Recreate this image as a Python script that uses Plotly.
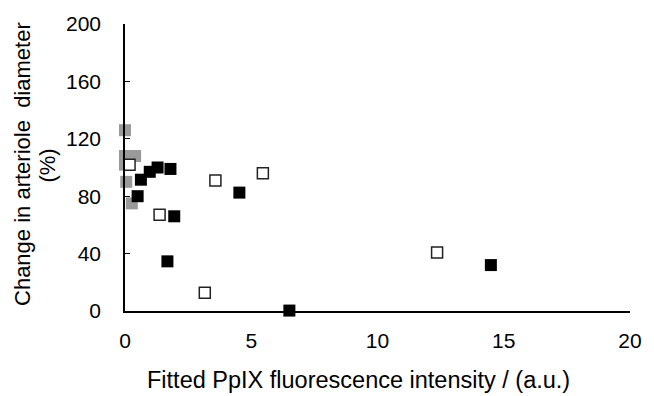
import plotly.graph_objects as go

# Series 1: gray filled squares
gray_x = [0.0, 0.0, 0.4, 0.0, 0.05, 0.27]
gray_y = [126, 108, 108, 102, 90, 75]

# Series 2: open squares
open_x = [0.18, 1.37, 3.16, 3.58, 5.46, 12.36]
open_y = [102, 67, 12.7, 91, 96, 40.8]

# Series 3: black filled squares
black_x = [0.5, 0.63, 0.98, 1.29, 1.8, 1.95, 1.68, 4.53, 6.51, 14.49]
black_y = [80, 91.5, 97, 100, 99, 66, 34.6, 82.5, 0.3, 32]

x_ticks = [0, 5, 10, 15, 20]
y_ticks = [0, 40, 80, 120, 160, 200]

x_title = "Fitted PpIX fluorescence intensity / (a.u.)"
y_title_1 = "Change in arteriole  diameter"
y_title_2 = "(%)"

fig = go.Figure()
fig.add_trace(go.Scatter(x=gray_x, y=gray_y, mode="markers",
                         marker=dict(symbol="square", size=12, color="#9a9a9a",
                                     line=dict(width=0)), cliponaxis=False))
fig.add_trace(go.Scatter(x=open_x, y=open_y, mode="markers",
                         marker=dict(symbol="square", size=11, color="white",
                                     line=dict(width=1.5, color="#222222")), cliponaxis=False))
fig.add_trace(go.Scatter(x=black_x, y=black_y, mode="markers",
                         marker=dict(symbol="square", size=12, color="black",
                                     line=dict(width=0)), cliponaxis=False))

fam = "Liberation Sans, Arial, sans-serif"

fig.update_layout(
    width=654, height=396,
    margin=dict(l=125, r=17, t=19, b=85),
    plot_bgcolor="white", paper_bgcolor="white",
    showlegend=False,
    font=dict(family=fam, size=21, color="black"),
    xaxis=dict(range=[0, 20], tickvals=x_ticks, ticktext=[str(v) for v in x_ticks],
               showline=True, linecolor="black", linewidth=1.5, showgrid=False,
               zeroline=False, ticks="", ticklabelstandoff=10),
    yaxis=dict(range=[0, 200], tickvals=y_ticks, ticktext=[str(v) for v in y_ticks],
               showline=True, linecolor="black", linewidth=1.5, showgrid=False,
               zeroline=False, ticks="inside", ticklen=5, tickcolor="black",
               ticklabelstandoff=18),
    annotations=[
        dict(text=x_title, xref="paper", yref="paper", x=(362 - 125) / 512,
             y=(311 - 381) / 292, xanchor="center", yanchor="middle",
             showarrow=False, font=dict(family=fam, size=23.5, color="black")),
        dict(text=y_title_1, xref="paper", yref="paper", x=(21 - 125) / 512,
             y=(311 - 161) / 292, xanchor="center", yanchor="middle", textangle=-90,
             showarrow=False, font=dict(family=fam, size=22, color="black")),
        dict(text=y_title_2, xref="paper", yref="paper", x=(46 - 125) / 512,
             y=(311 - 163) / 292, xanchor="center", yanchor="middle", textangle=-90,
             showarrow=False, font=dict(family=fam, size=22, color="black")),
    ],
)

fig.write_html("out.html")
